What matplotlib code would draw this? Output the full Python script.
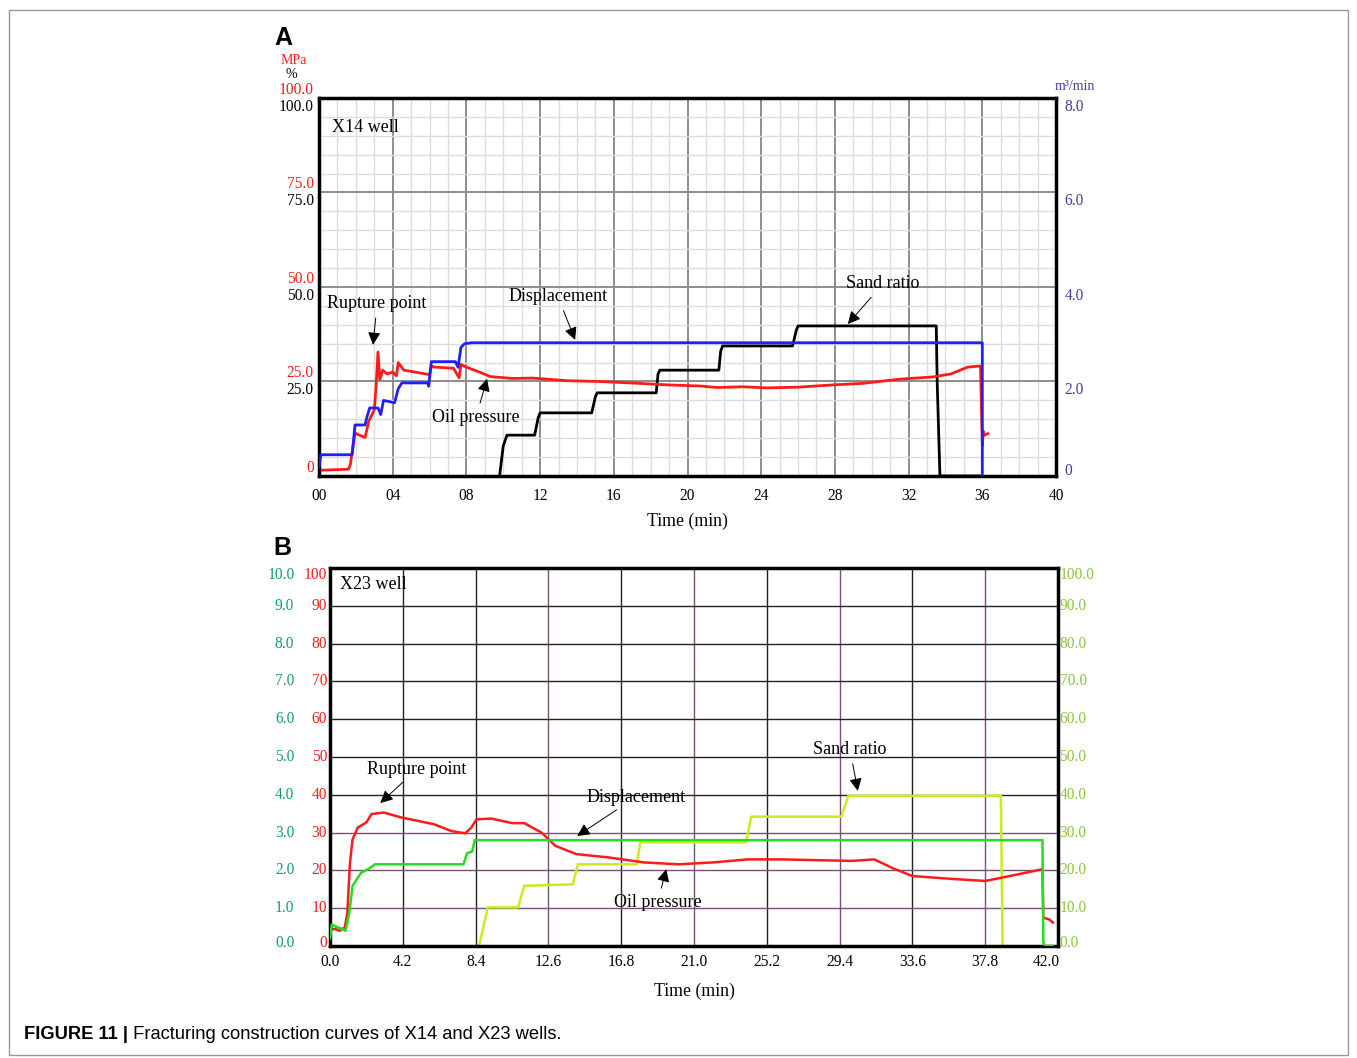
import numpy as np
import matplotlib
matplotlib.use('Agg')
import matplotlib.pyplot as plt
import matplotlib.transforms as mtransforms
from matplotlib.patches import Rectangle

plt.rcParams['font.family'] = ['Liberation Serif', 'DejaVu Serif']

# ---------------- data, panel A (X14 well) ----------------
a_oil_t = [0, 1.6, 1.7, 1.95, 2.1, 2.5, 2.7, 3.0, 3.1, 3.2, 3.3, 3.45, 3.7, 4.0, 4.2, 4.3,
           4.6, 5.2, 6.0, 6.1, 6.3, 7.3, 7.6, 7.7, 8.0, 8.7, 9.3, 10.5, 11.6, 13.5, 15.2,
           17.0, 18.9, 20.7, 21.6, 23.0, 24.3, 26.0, 27.9, 29.5, 31.5, 33.3, 34.3, 35.2,
           35.9, 36.0, 36.05, 36.1, 36.3]
a_oil = [1.5, 1.8, 3.0, 11.4, 11.0, 10.2, 14.5, 17.5, 24.0, 32.8, 25.5, 28.0, 27.0, 27.5,
         26.5, 30.0, 28.0, 27.5, 26.8, 29.0, 28.8, 28.5, 26.0, 29.5, 28.8, 27.5, 26.3, 25.8,
         25.9, 25.2, 25.0, 24.6, 24.1, 23.8, 23.4, 23.6, 23.3, 23.5, 24.1, 24.5, 25.6, 26.2,
         27.0, 28.8, 29.1, 8.0, 11.8, 10.8, 11.2]

a_disp_t = [0, 0.1, 1.8, 1.95, 2.5, 2.6, 2.75, 3.2, 3.35, 3.5, 4.1, 4.3, 4.5, 5.9, 5.95,
            6.1, 7.4, 7.55, 7.7, 7.9, 8.3, 36.0, 36.0]
a_disp = [0.2, 0.45, 0.45, 1.08, 1.08, 1.25, 1.44, 1.44, 1.30, 1.60, 1.55, 1.85, 1.97, 1.97,
          1.90, 2.42, 2.42, 2.30, 2.72, 2.80, 2.82, 2.82, 0]

a_sand_t = [9.8, 10.0, 10.2, 11.7, 11.9, 12.0, 14.8, 15.0, 15.1, 18.3, 18.4, 18.5, 21.7,
            21.8, 21.9, 25.7, 25.9, 26.0, 33.5, 33.55, 33.7, 36.0]
a_sand = [0, 8, 10.8, 10.8, 15.5, 16.7, 16.7, 21, 22, 22, 27, 28, 28, 33, 34.4, 34.4, 38.5,
          39.7, 39.7, 25, 0, 0]

a_xticks = [0, 4, 8, 12, 16, 20, 24, 28, 32, 36, 40]
a_xlabels = ['00', '04', '08', '12', '16', '20', '24', '28', '32', '36', '40']
a_left_ticks = [0, 25, 50, 75, 100]
a_left_red = ['0', '25.0', '50.0', '75.0', '100.0']
a_left_black = ['', '25.0', '50.0', '75.0', '100.0']
a_right_ticks = [0, 2, 4, 6, 8]
a_right_labels = ['0', '2.0', '4.0', '6.0', '8.0']

# ---------------- data, panel B (X23 well) ----------------
b_oil_t = [0, 0.1, 0.3, 0.55, 0.85, 1.0, 1.15, 1.3, 1.6, 2.1, 2.4, 3.1, 4.1, 6.0, 7.0, 7.8,
           8.15, 8.45, 9.3, 10.5, 11.2, 12.2, 13.0, 14.2, 16.1, 18.1, 20.1, 22.1, 24.1,
           26.1, 28.0, 30.1, 31.4, 32.5, 33.6, 36.0, 37.8, 38.8, 41.1, 41.15, 41.5, 41.7]
b_oil = [6.2, 4.4, 4.5, 4.0, 4.9, 8.8, 22, 28.2, 31.3, 32.7, 34.9, 35.3, 34.0, 32.2, 30.4,
         29.8, 31.3, 33.5, 33.7, 32.5, 32.5, 30.0, 26.5, 24.3, 23.4, 22.1, 21.6, 22.1, 22.9,
         22.9, 22.7, 22.5, 22.9, 20.5, 18.5, 17.7, 17.2, 18.1, 20.3, 7.5, 7.0, 6.2]

b_disp_t = [0, 0.1, 0.4, 0.7, 0.9, 1.12, 1.3, 1.8, 2.2, 2.6, 5.0, 7.7, 7.9, 8.2, 8.35, 8.5,
            41.1, 41.15, 41.25, 41.7]
b_disp = [0.2, 0.57, 0.5, 0.45, 0.4, 0.9, 1.59, 1.94, 2.03, 2.16, 2.16, 2.16, 2.45, 2.5, 2.8,
          2.8, 2.8, 0.1, 0.0, 0.0]

b_sand_t = [8.6, 9.1, 10.85, 11.2, 14.0, 14.3, 17.7, 17.9, 24.0, 24.3, 29.5, 29.9, 38.7, 38.8]
b_sand = [0, 10.2, 10.2, 15.9, 16.3, 21.6, 21.6, 27.4, 27.4, 34.2, 34.2, 39.7, 39.7, 0]

b_xticks = [0, 4.2, 8.4, 12.6, 16.8, 21.0, 25.2, 29.4, 33.6, 37.8, 42.0]
b_left_ticks = [0, 10, 20, 30, 40, 50, 60, 70, 80, 90, 100]
b_disp_labels = ['0.0', '1.0', '2.0', '3.0', '4.0', '5.0', '6.0', '7.0', '8.0', '9.0', '10.0']
b_red_labels = ['0', '10', '20', '30', '40', '50', '60', '70', '80', '90', '100']
b_right_labels = ['0.0', '10.0', '20.0', '30.0', '40.0', '50.0', '60.0', '70.0', '80.0',
                  '90.0', '100.0']

RED = '#ff1a1a'
BLUE = '#1f1fff'
PURPLE = '#4b3b9b'
GREEN_LBL = '#13a064'
GREEN = '#22dd22'
YELLOW = '#c8ec1e'
YELLOW_LBL = '#8cc63f'
FS = 11.2
AFS = 13

fig = plt.figure(figsize=(13.57, 10.58), dpi=100)
fig.patches.append(Rectangle((0.007, 0.003), 0.986, 0.988, transform=fig.transFigure,
                             fill=False, edgecolor='#999999', lw=1))


def shift(dy_px, dx_px=0):
    return mtransforms.ScaledTranslation(dx_px / fig.dpi, dy_px / fig.dpi, fig.dpi_scale_trans)


# ================= panel A =================
ax = fig.add_axes([0.2351, 0.5501, 0.5431, 0.3573])
ax.set_xlim(0, 40)
ax.set_ylim(0, 100)
ax.set_xticks(a_xticks)
ax.set_xticklabels(a_xlabels, fontsize=FS)
ax.set_xticks(np.arange(0, 41, 1), minor=True)
ax.set_yticks(a_left_ticks)
ax.set_yticks(np.arange(0, 101, 5), minor=True)
ax.set_yticklabels([])
ax.tick_params(which='both', length=0, pad=9)
ax.grid(which='minor', color='#dcdcdc', lw=1)
ax.grid(which='major', color='#8c8c8c', lw=1.4)
ax.set_axisbelow(True)
for s in ax.spines.values():
    s.set_linewidth(2.5)
ax.set_xlabel('Time (min)', fontsize=12.8, labelpad=6)

up = shift(8)
down = shift(-9)
ytr = ax.get_yaxis_transform()
for v, r, b in zip(a_left_ticks, a_left_red, a_left_black):
    ax.text(-0.007, v, r, color=RED, fontsize=FS, ha='right', va='center',
            transform=ytr + up, clip_on=False)
    if b:
        ax.text(-0.007, v, b, color='black', fontsize=FS, ha='right', va='center',
                transform=ytr + down, clip_on=False)

ax.plot(a_sand_t, a_sand, color='black', lw=2)
ax.plot(a_oil_t, a_oil, color=RED, lw=2)

ax2 = ax.twinx()
ax2.set_ylim(0, 8)
ax2.set_yticks([])
for s in ax2.spines.values():
    s.set_visible(False)
ax2.plot(a_disp_t, a_disp, color=BLUE, lw=2)
ytr2 = ax2.get_yaxis_transform()
for v, lab in zip(a_right_ticks, a_right_labels):
    tr = ytr2 + (shift(5) if v == 0 else down)
    ax2.text(1.012, v, lab, color=PURPLE, fontsize=FS, ha='left', va='center',
             transform=tr, clip_on=False)

ax.text(-0.035, 1.09, 'MPa', color=RED, fontsize=10, ha='center', transform=ax.transAxes)
ax.text(-0.038, 1.053, '%', color='black', fontsize=10, ha='center', transform=ax.transAxes)
ax.text(1.025, 1.02, 'm\u00b3/min', color=PURPLE, fontsize=10, ha='center',
        transform=ax.transAxes)
ax.text(-0.06, 1.14, 'A', fontsize=18, fontweight='bold', family='Liberation Sans',
        transform=ax.transAxes)

ax.text(0.7, 92.3, 'X14 well', fontsize=AFS, ha='left', va='center')
arr = dict(arrowstyle='-|>', color='black', lw=0.7, mutation_scale=19, shrinkA=2, shrinkB=0)
ax.annotate('Rupture point', xy=(2.93, 34.7), xytext=(3.15, 45.5), fontsize=AFS,
            ha='center', va='center', arrowprops=arr)
ax.annotate('Displacement', xy=(13.9, 36.0), xytext=(12.97, 47.4), fontsize=AFS,
            ha='center', va='center', arrowprops=arr)
ax.annotate('Oil pressure', xy=(9.12, 25.7), xytext=(8.52, 15.6), fontsize=AFS,
            ha='center', va='center', arrowprops=arr)
ax.annotate('Sand ratio', xy=(28.7, 40.2), xytext=(30.6, 50.8), fontsize=AFS,
            ha='center', va='center', arrowprops=arr)

# ================= panel B =================
bx = fig.add_axes([0.2432, 0.1059, 0.5365, 0.3573])
bx.set_xlim(0, 42)
bx.set_ylim(0, 100)
bx.set_xticks(b_xticks)
b_xlabels = ['%.1f' % t for t in b_xticks]
bx.set_xticklabels(b_xlabels[:-1] + [''], fontsize=FS)
bx.set_yticks(b_left_ticks)
bx.set_yticklabels([])
bx.tick_params(length=0)
bx.tick_params(axis='x', pad=6)
for s in bx.spines.values():
    s.set_linewidth(2.5)
bx.set_xlabel('Time (min)', fontsize=12.8, labelpad=9)
# last x label sits just inside the frame edge, as in the reference
bx.text(b_xticks[-1], 0, b_xlabels[-1], fontsize=FS, ha='center', va='center',
        transform=bx.get_xaxis_transform() + shift(-16, -12), clip_on=False)
# grid lines, some drawn in a purple tint as in the recorder sheet
for t in b_xticks[1:-1]:
    c = '#7a4f7a' if t in (12.6, 21.0, 29.4, 37.8) else '#222222'
    bx.axvline(t, color=c, lw=1, zorder=0)
for v in b_left_ticks[1:-1]:
    c = '#7a4f7a' if v <= 30 else '#222222'
    bx.axhline(v, color=c, lw=1, zorder=0)


def edge_shift(v):
    if v == 100:
        return shift(-7)
    if v == 0:
        return shift(3)
    return shift(0)


bytr = bx.get_yaxis_transform()
for v, g, r, y in zip(b_left_ticks, b_disp_labels, b_red_labels, b_right_labels):
    tr = bytr + edge_shift(v)
    bx.text(-0.049, v, g, color=GREEN_LBL, fontsize=FS, ha='right', va='center',
            transform=tr, clip_on=False)
    bx.text(-0.004, v, r, color=RED, fontsize=FS, ha='right', va='center',
            transform=tr, clip_on=False)
    bx.text(1.002, v, y, color=YELLOW_LBL, fontsize=FS, ha='left', va='center',
            transform=tr, clip_on=False)

bx.plot(b_sand_t, b_sand, color=YELLOW, lw=1.8)
bx.plot(b_oil_t, b_oil, color=RED, lw=1.8)

bx3 = bx.twinx()
bx3.set_ylim(0, 10)
bx3.set_yticks([])
for s in bx3.spines.values():
    s.set_visible(False)
bx3.plot(b_disp_t, b_disp, color=GREEN, lw=1.8)

bx.text(-0.078, 1.035, 'B', fontsize=18, fontweight='bold', family='Liberation Sans',
        transform=bx.transAxes)
bx.text(0.6, 95.5, 'X23 well', fontsize=AFS, ha='left', va='center')
bx.annotate('Rupture point', xy=(2.9, 37.8), xytext=(5.02, 46.8), fontsize=AFS,
            ha='center', va='center', arrowprops=arr)
bx.annotate('Displacement', xy=(14.26, 29.1), xytext=(17.65, 39.4), fontsize=AFS,
            ha='center', va='center', arrowprops=arr)
bx.annotate('Sand ratio', xy=(30.45, 41.0), xytext=(30.0, 51.9), fontsize=AFS,
            ha='center', va='center', arrowprops=arr)
bx.annotate('Oil pressure', xy=(19.4, 20.3), xytext=(18.9, 11.6), fontsize=AFS,
            ha='center', va='center', arrowprops=arr)

# caption
cap = fig.text(0.018, 0.014, 'FIGURE 11 |', fontsize=13.2, fontweight='bold',
               family='Liberation Sans', va='bottom')
plt.annotate(' Fracturing construction curves of X14 and X23 wells.', xy=(1, 0),
             xycoords=cap, va='bottom', fontsize=13.2, family='Liberation Sans')

plt.savefig('out.png', dpi=100)
